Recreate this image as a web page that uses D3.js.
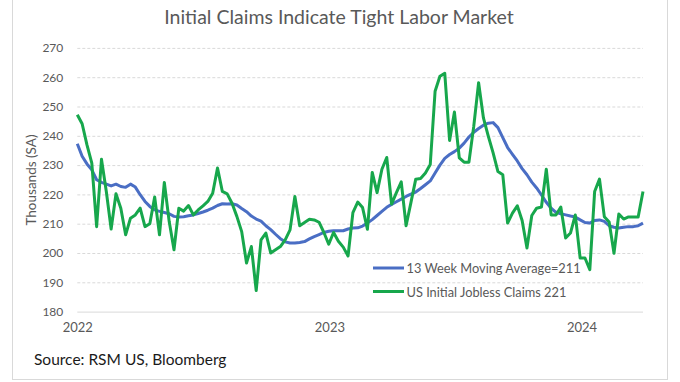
<!DOCTYPE html>
<html>
<head>
<meta charset="utf-8">
<script src="https://cdn.jsdelivr.net/npm/d3@7"></script>
<style>
  body { margin: 0; background: #fff; }
  text { font-family: Lato, "Open Sans", sans-serif; }
</style>
</head>
<body>
<div id="chart"></div>
<script>
const width = 680;
const height = 382;

// weekly observations, week ending Saturday, starting 2022-01-01
const firstWeek = new Date(Date.UTC(2022, 0, 1));

const claims = [
  247.2, 244.1, 236.9, 230.7, 209, 232, 221, 208.2, 220.2, 215.3,
  206.2, 211.9, 213, 215.3, 209, 210, 219.1, 206.2, 224.1, 210.8,
  201.1, 215.3, 214.3, 216.2, 213, 214.7, 216.1, 217.6, 220.4, 229,
  221, 220.2, 217, 212.5, 207.3, 196.6, 202.2, 187.2, 204.5, 206.8,
  200, 201.1, 202.2, 204.5, 207.9, 219.3, 209.3, 210.4, 211.5, 211.3,
  210.5, 207, 203, 207, 204, 202, 199, 213.8, 217.4, 215.5,
  208.1, 227.5, 220.6, 228.6, 232.6, 216.7, 220.6, 224.3, 209.3, 217.2,
  225.2, 225.4, 227.3, 230.2, 255.2, 260.3, 261.3, 238.4, 248.1, 232.5,
  231, 231, 243.3, 258.1, 246.1, 239.9, 234.2, 227.8, 226.7, 210.2,
  213.6, 216.1, 211.1, 201.7, 212.8, 215.3, 215.7, 228.6, 213, 213,
  215.7, 205.1, 206.8, 213, 198.3, 198.3, 194.3, 221, 225.2, 212.4,
  210.6, 199.9, 213.3, 211.6, 212.3, 212.3, 212.3, 221
];

const movingAvg = [
  237.3, 233, 230.4, 228.4, 225, 224.1, 223.5, 222.9, 223.5, 222.7,
  222.4, 223.5, 222.5, 219.9, 217.6, 215.9, 214.7, 214.2, 213.8, 213.4,
  212.5, 212.3, 212.4, 212.7, 213, 213.5, 214, 214.6, 215.3, 216.2,
  216.8, 216.7, 216.8, 216.4, 215.2, 214.1, 212.6, 211.6, 210.9, 209.3,
  208, 206.4, 204.9, 203.8, 203.4, 203.4, 203.6, 203.9, 204.8, 205.6,
  206.3, 207, 207.4, 207.6, 207.6, 207.6, 208.2, 208.5, 208.6, 209.2,
  210.2, 211.4, 212.8, 214.2, 215.6, 216.6, 217.5, 218.4, 219.3, 220.1,
  220.8, 222, 223.3, 224.6, 227.3, 230, 232.3, 233.6, 234.6, 235.8,
  237.5, 239.6, 241.2, 242.5, 243.6, 244.3, 244.5, 242.8, 239.4, 236,
  233.7, 231.4, 228.8, 226.7, 224.2, 222.2, 219.8, 217.3, 215.3, 213.9,
  213.4, 213, 212.6, 212.3, 211.3, 210.4, 210.2, 211.1, 211.3, 210.8,
  209.3, 208.8, 208.5, 208.8, 209, 209, 209.3, 210.2
];

const yTicks = [180, 190, 200, 210, 220, 230, 240, 250, 260, 270];
const xTickYears = [2022, 2023, 2024];
const seriesNames = ["13 Week Moving Average=211", "US Initial Jobless Claims 221"];
const seriesColors = ["#4a6ec4", "#17a74c"];

const weeks = claims.map((_, i) => d3.utcDay.offset(firstWeek, 7 * i));

const plot = { left: 77.3, right: 643, top: 47.9, bottom: 311.6 };

const svg = d3.select("#chart")
  .append("svg")
  .attr("width", width)
  .attr("height", height)
  .style("background", "#fff");

// outer frame
svg.append("rect")
  .attr("x", 12.5).attr("y", -2)
  .attr("width", 655).attr("height", 381.5)
  .attr("fill", "none")
  .attr("stroke", "#d9d9d9");

const x = d3.scaleUtc()
  .domain([weeks[0], weeks[weeks.length - 1]])
  .range([plot.left, plot.right]);

const y = d3.scaleLinear()
  .domain([180, 270])
  .range([plot.bottom, plot.top]);

svg.append("text")
  .attr("x", 339).attr("y", 24)
  .attr("text-anchor", "middle")
  .attr("font-size", "19.5px")
  .attr("fill", "#595959")
  .text("Initial Claims Indicate Tight Labor Market");

// y axis with gridlines
const yAxis = svg.append("g")
  .attr("transform", `translate(${plot.left},0)`)
  .call(d3.axisLeft(y)
    .tickValues(yTicks)
    .tickSize(-(plot.right - plot.left))
    .tickPadding(14));

yAxis.select(".domain").remove();
yAxis.selectAll("line")
  .attr("stroke", "#d9d9d9")
  .attr("stroke-dasharray", d => d === 180 ? null : "3,2");
yAxis.selectAll("text")
  .attr("fill", "#595959")
  .attr("font-size", "12px")
  .attr("font-family", "Lato, sans-serif");

svg.append("text")
  .attr("transform", `translate(31,180) rotate(-90)`)
  .attr("text-anchor", "middle")
  .attr("dominant-baseline", "central")
  .attr("font-size", "13.5px")
  .attr("fill", "#595959")
  .text("Thousands (SA)");

// x axis, year labels only
const xAxis = svg.append("g")
  .attr("transform", `translate(0,${plot.bottom})`)
  .call(d3.axisBottom(x)
    .tickValues(xTickYears.map(yr => new Date(Date.UTC(yr, 0, 1))))
    .tickFormat(d3.utcFormat("%Y"))
    .tickSize(0)
    .tickPadding(11));

xAxis.select(".domain").remove();
xAxis.selectAll("text")
  .attr("fill", "#595959")
  .attr("font-size", "13px")
  .attr("font-family", "Lato, sans-serif");

const line = d3.line()
  .x((d, i) => x(weeks[i]))
  .y(d => y(d));

[movingAvg, claims].forEach((series, k) => {
  svg.append("path")
    .datum(series)
    .attr("d", line)
    .attr("fill", "none")
    .attr("stroke", seriesColors[k])
    .attr("stroke-width", 3)
    .attr("stroke-linejoin", "round");
});

// legend
const legend = svg.append("g")
  .attr("transform", "translate(373,268)");

seriesNames.forEach((name, k) => {
  const row = legend.append("g")
    .attr("transform", `translate(0,${k * 23.5})`);
  row.append("line")
    .attr("x1", 0).attr("x2", 31)
    .attr("stroke", seriesColors[k])
    .attr("stroke-width", 3);
  row.append("text")
    .attr("x", 33.5).attr("y", 0)
    .attr("dominant-baseline", "central")
    .attr("font-size", "12.8px")
    .attr("fill", "#595959")
    .text(name);
});

svg.append("text")
  .attr("x", 34).attr("y", 359)
  .attr("dominant-baseline", "central")
  .attr("font-size", "15.5px")
  .attr("fill", "#1a1a1a")
  .text("Source: RSM US, Bloomberg");
</script>
</body>
</html>
